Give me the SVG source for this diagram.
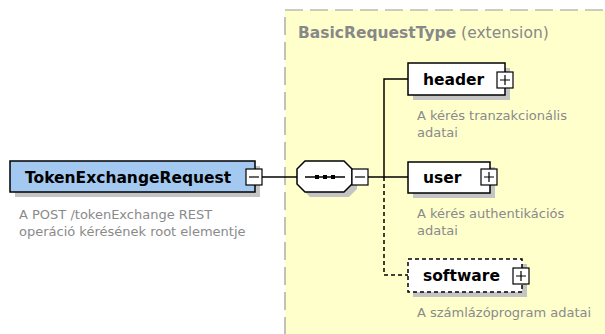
<svg xmlns="http://www.w3.org/2000/svg" width="605" height="334" viewBox="0 0 605 334">
<style>
text{font-family:"DejaVu Sans","Verdana",sans-serif}
.name{font-size:15.5px;font-weight:bold;fill:#000}
.desc{font-size:13px;fill:#8a8a8a}
.title{font-size:15.5px;fill:#888}
.shadow{fill:#c4c4c4;stroke:none}
.box{fill:#fff;stroke:#000;stroke-width:1.5}
.opt{fill:#fff;stroke:#000;stroke-width:1.5;stroke-dasharray:4 3}
.main{fill:#a3c9f1;stroke:#000;stroke-width:1.5}
.pm{fill:#fff;stroke:#000;stroke-width:1.2}
.sign{stroke:#000;stroke-width:1.2;fill:none}
.conn{stroke:#000;stroke-width:1.5;fill:none}
.dash{stroke:#000;stroke-width:1.5;fill:none;stroke-dasharray:4 3}
</style>
<rect width="605" height="334" fill="#fff"/>
<g id="BasicRequestType">
<rect x="285" y="10" width="400" height="400" fill="#ffffcc" stroke="#999" stroke-width="1.2" stroke-dasharray="18 7"/>
<text x="298" y="38" class="title"><tspan font-weight="bold">BasicRequestType</tspan> (extension)</text>
</g>
<g id="connectors">
<line x1="262" y1="177" x2="297" y2="177" class="conn"/>
<polyline points="368,177 384,177" class="conn"/>
<polyline points="408,79 384,79 384,177 408,177" class="conn"/>
<polyline points="384,177 384,275 408,275" class="dash"/>
</g>
<g id="TokenExchangeRequest">
<rect x="15" y="166" width="245" height="31" class="shadow"/>
<rect x="10" y="161" width="245" height="31" class="main"/>
<text x="25" y="183" class="name">TokenExchangeRequest</text>
<rect x="246" y="169" width="16" height="16" class="pm"/>
<line x1="249" y1="177" x2="259" y2="177" class="sign"/>
<text x="19" y="219" class="desc">A POST /tokenExchange REST</text>
<text x="19" y="236" class="desc">operáció kérésének root elementje</text>
</g>
<g id="sequence">
<polygon points="310,166 349,166 357,174 357,189 349,197 310,197 302,189 302,174" class="shadow"/>
<polygon points="305,161 344,161 352,169 352,184 344,192 305,192 297,184 297,169" class="box"/>
<line x1="305" y1="177" x2="345" y2="177" class="conn"/>
<rect x="315" y="175" width="4" height="4" fill="#000"/>
<rect x="323" y="175" width="4" height="4" fill="#000"/>
<rect x="331" y="175" width="4" height="4" fill="#000"/>
<rect x="352" y="169" width="16" height="16" class="pm"/>
<line x1="355" y1="177" x2="365" y2="177" class="sign"/>
</g>
<g id="header">
<rect x="413" y="68" width="97" height="32" class="shadow"/>
<rect x="408" y="63" width="97" height="32" class="box"/>
<text x="423" y="84.5" class="name">header</text>
<rect x="497" y="72" width="16" height="16" class="pm"/>
<path d="M500,80H510M505,75V85" class="sign"/>
<text x="417" y="120" class="desc">A kérés tranzakcionális</text>
<text x="417" y="137" class="desc">adatai</text>
</g>
<g id="user">
<rect x="413" y="167" width="82" height="31" class="shadow"/>
<rect x="408" y="162" width="82" height="31" class="box"/>
<text x="423" y="183" class="name">user</text>
<rect x="481" y="169" width="16" height="16" class="pm"/>
<path d="M484,177H494M489,172V182" class="sign"/>
<text x="417" y="218" class="desc">A kérés authentikációs</text>
<text x="417" y="235" class="desc">adatai</text>
</g>
<g id="software">
<rect x="413" y="264" width="114" height="33" class="shadow"/>
<rect x="408" y="259" width="114" height="33" class="opt"/>
<text x="423" y="281" class="name">software</text>
<rect x="513" y="268" width="16" height="16" class="pm"/>
<path d="M516,276H526M521,271V281" class="sign"/>
<text x="417" y="317" class="desc">A számlázóprogram adatai</text>
</g>
</svg>
